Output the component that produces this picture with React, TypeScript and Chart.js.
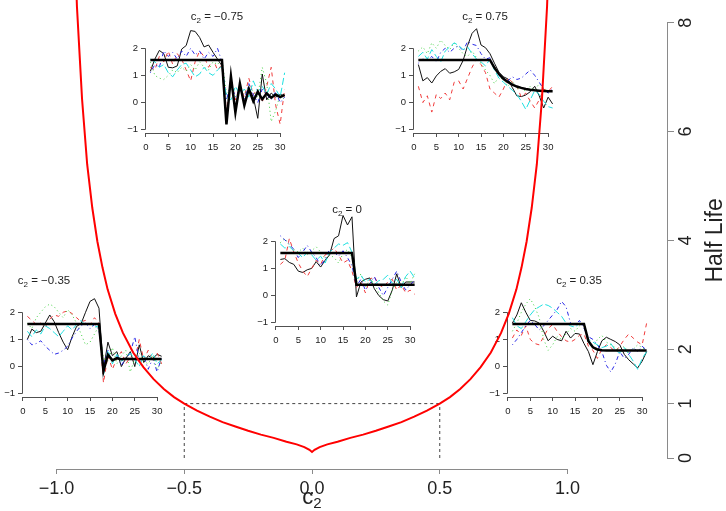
import React, { useEffect, useRef } from "react";
import { Chart, registerables } from "chart.js";

Chart.register(...registerables);

const FONT = '"Liberation Sans", Arial, Helvetica, sans-serif';

// ---------------- main chart data ----------------
const c2Grid = [
  -0.935, -0.92, -0.9, -0.88, -0.86, -0.84, -0.82, -0.8, -0.77, -0.74, -0.7, -0.66, -0.62, -0.58,
  -0.54, -0.5, -0.45, -0.4, -0.35, -0.3, -0.25, -0.2, -0.15, -0.1, -0.06, -0.03, -0.01, 0,
  0.01, 0.03, 0.06, 0.1, 0.15, 0.2, 0.25, 0.3, 0.35, 0.4, 0.45, 0.5, 0.54, 0.58, 0.62, 0.66,
  0.7, 0.74, 0.77, 0.8, 0.82, 0.84, 0.86, 0.88, 0.9, 0.92, 0.935,
];
const halfLife = [
  10.3, 8.3, 6.6, 5.4, 4.6, 3.98, 3.5, 3.1, 2.65, 2.3, 1.94, 1.67, 1.45, 1.27,
  1.12, 1.0, 0.87, 0.76, 0.66, 0.58, 0.5, 0.43, 0.37, 0.3, 0.25, 0.2, 0.15, 0.11,
  0.15, 0.2, 0.25, 0.3, 0.37, 0.43, 0.5, 0.58, 0.66, 0.76, 0.87, 1.0, 1.12, 1.27, 1.45, 1.67,
  1.94, 2.3, 2.65, 3.1, 3.5, 3.98, 4.6, 5.4, 6.6, 8.3, 10.3,
];
const refC2 = [-0.5, 0.5];
const refHalfLife = [0, 1];
const mainXTicks = [-1, -0.5, 0, 0.5, 1];
const mainYTicks = [0, 1, 2, 4, 6, 8];

// ---------------- inset data ----------------
const insetT = [1, 2, 3, 4, 5, 6, 7, 8, 9, 10, 11, 12, 13, 14, 15, 16, 17, 18, 19, 20, 21, 22, 23, 24, 25, 26, 27, 28, 29, 30, 31];
const insetXTicks = [0, 5, 10, 15, 20, 25, 30];
const insetYTicks = [-1, 0, 1, 2];
const insetC2 = [-0.75, 0.75, -0.35, 0, 0.35];

// c2 = -0.75
const meanA = [1.57, 1.57, 1.57, 1.57, 1.57, 1.57, 1.57, 1.57, 1.57, 1.57, 1.57, 1.57, 1.57, 1.57, 1.57, 1.57, 1.57, -0.8, 0.97, -0.36, 0.7, -0.1, 0.5, 0.05, 0.4, 0.12, 0.34, 0.18, 0.3, 0.2, 0.28];
const blackA = [1.15, 1.6, 1.92, 1.8, 1.3, 1.28, 1.35, 1.97, 2.1, 2.65, 2.62, 2.4, 2.05, 2.12, 1.85, 1.6, 1.35, -0.7, 0.9, -0.2, 0.65, 0.0, 0.55, 0.2, -0.58, 1.05, 0.1, 0.35, 0.2, 0.3, 0.25];
const redA = [1.3, 1.2, 1.7, 1.5, 1.9, 1.4, 1.8, 1.6, 1.2, 0.8, 1.5, 1.9, 1.7, 1.3, 1.6, 1.2, 1.4, -0.3, 0.9, 0.1, 0.6, 0.2, 0.9, 0.3, 0.5, 0.0, 0.6, 1.3, -0.1, -0.8, 0.5];
const greenA = [1.5, 1.0, 0.9, 0.85, 1.0, 1.2, 1.1, 1.3, 1.15, 1.4, 1.2, 1.5, 1.3, 1.2, 1.5, 1.4, 1.6, 0.3, 0.5, 0.2, 0.4, 0.3, 0.6, 0.4, 0.2, 1.3, 0.7, -0.7, -0.3, 0.3, 0.1];
const blueA = [1.1, 1.4, 1.3, 1.9, 1.7, 1.85, 1.6, 1.9, 1.7, 2.0, 1.75, 1.9, 1.6, 1.85, 1.7, 2.0, 1.5, 0.1, 0.7, 0.2, 0.5, 0.1, 0.7, 0.3, 0.0, 0.5, 0.3, 0.1, 0.4, 0.0, 0.2];
const cyanA = [1.6, 1.5, 1.3, 1.4, 1.1, 0.95, 1.2, 1.4, 1.45, 1.2, 0.95, 1.05, 1.3, 1.1, 1.0, 1.2, 1.35, 0.2, 0.1, 0.6, 0.3, 0.5, 0.2, 0.8, 0.4, 0.6, 0.3, 0.7, 0.5, 0.2, 1.1];

// c2 = 0.75
const meanB = [1.57, 1.57, 1.57, 1.57, 1.57, 1.57, 1.57, 1.57, 1.57, 1.57, 1.57, 1.57, 1.57, 1.57, 1.57, 1.57, 1.57, 1.28, 1.05, 0.88, 0.76, 0.66, 0.59, 0.54, 0.5, 0.47, 0.45, 0.44, 0.43, 0.42, 0.42];
const blackB = [1.4, 0.8, 0.92, 0.72, 0.98, 1.15, 1.25, 1.08, 1.13, 1.22, 1.55, 2.1, 2.55, 2.72, 2.12, 2.02, 1.8, 1.45, 1.12, 0.95, 0.87, 0.55, 0.25, 0.22, 0.28, 0.4, 0.6, 0.25, -0.2, 0.2, -0.05];
const redB = [0.6, 0.0, 0.25, -0.35, 0.3, 0.15, 0.35, 0.1, 0.75, 0.8, 0.5, 0.9, 1.3, 1.6, 1.4, 1.1, 0.5, 0.35, 0.2, 0.5, 0.9, 0.75, 0.6, 0.2, 0.35, 0.05, -0.2, 0.1, 0.5, 0.4, 0.6];
const greenB = [1.9, 2.05, 1.8, 2.2, 2.0, 2.3, 2.1, 1.95, 2.2, 2.0, 1.8, 1.7, 1.9, 1.65, 1.45, 1.2, 1.0, 0.7, 0.95, 0.85, 0.6, 0.8, 0.5, 0.55, 0.4, 0.6, 0.45, 0.7, 0.55, 0.4, 0.45];
const blueB = [1.45, 1.6, 1.55, 1.7, 1.5, 1.85, 2.0, 1.85, 2.0, 2.1, 1.9, 2.25, 2.15, 2.1, 1.8, 1.6, 1.65, 1.3, 1.0, 0.9, 0.8, 0.95, 0.85, 0.9, 1.05, 1.2, 1.0, 0.75, 0.5, 0.35, 0.5];
const cyanB = [1.7, 1.85, 1.6, 1.95, 1.7, 1.5, 1.9, 2.05, 2.2, 2.1, 1.95, 2.05, 1.8, 1.6, 1.5, 1.35, 1.6, 1.2, 0.9, 0.75, 0.6, 0.45, 0.3, 0.05, -0.25, 0.1, 0.45, 0.3, 0.05, -0.15, -0.2];

// c2 = -0.35
const meanC = [1.57, 1.57, 1.57, 1.57, 1.57, 1.57, 1.57, 1.57, 1.57, 1.57, 1.57, 1.57, 1.57, 1.57, 1.57, 1.57, 1.57, -0.17, 0.44, 0.23, 0.31, 0.27, 0.29, 0.28, 0.28, 0.28, 0.28, 0.28, 0.28, 0.28, 0.28];
const blackC = [1.0, 1.38, 1.25, 1.3, 1.6, 1.9, 1.65, 1.25, 0.9, 0.62, 1.1, 1.48, 1.58, 2.0, 2.4, 2.5, 2.15, -0.1, 0.9, 0.4, 0.55, 0.0, 0.3, 0.55, 0.0, 0.8, 0.15, 0.4, 0.3, 0.45, 0.38];
const redC = [1.85, 1.7, 1.55, 1.6, 1.45, 1.75, 1.9, 1.85, 2.0, 2.05, 1.95, 1.8, 1.65, 1.7, 1.55, 1.8, 1.6, -0.6, 0.4, -0.1, 0.3, 0.55, 0.1, 0.35, 0.2, 1.0, 0.25, 0.6, 0.2, 0.5, 0.1];
const greenC = [1.6, 1.4, 1.8, 2.0, 2.2, 2.3, 2.2, 2.0, 1.8, 2.1, 1.9, 1.6, 1.2, 0.8, 0.9, 1.2, 1.5, 0.3, 0.2, 0.7, 0.1, 0.4, 0.6, -0.2, 0.3, 0.5, 0.2, 0.1, 0.4, -0.1, 0.2];
const blueC = [1.0, 0.8, 0.85, 0.95, 0.75, 0.6, 0.45, 0.5, 0.6, 0.75, 1.05, 1.3, 1.5, 1.6, 1.4, 1.55, 1.35, 0.1, 0.6, 0.2, 0.4, 0.05, 0.3, 0.5, 1.1, 0.2, 0.4, -0.1, 0.3, -0.2, 0.35];
const cyanC = [1.3, 1.1, 1.35, 1.2, 1.5, 1.4, 1.25, 1.1, 1.3, 1.5, 1.35, 1.55, 1.7, 1.5, 1.6, 1.45, 1.5, -0.3, 0.6, 0.1, 0.45, 0.2, 0.3, 0.5, 0.25, 0.0, 0.4, 0.2, 0.5, 0.1, 0.25];

// c2 = 0
const meanD = [1.57, 1.57, 1.57, 1.57, 1.57, 1.57, 1.57, 1.57, 1.57, 1.57, 1.57, 1.57, 1.57, 1.57, 1.57, 1.57, 1.57, 0.4, 0.4, 0.4, 0.4, 0.4, 0.4, 0.4, 0.4, 0.4, 0.4, 0.4, 0.4, 0.4, 0.4];
const blackD = [1.33, 1.36, 1.22, 1.15, 0.9, 0.85, 0.95, 1.0, 1.25, 1.05, 1.3, 1.5, 2.1, 2.2, 2.95, 2.6, 2.9, -0.05, 0.5, 0.6, 0.65, 0.25, 0.0, -0.15, -0.2, 0.2, 0.8, 0.3, 0.5, 0.5, 0.5];
const redD = [1.15, 1.3, 2.1, 1.6, 1.2, 0.9, 0.7, 1.0, 1.3, 1.15, 1.5, 1.6, 1.75, 1.5, 1.2, 1.3, 0.9, 0.3, 0.5, 0.1, 0.6, 0.7, 0.4, 0.3, 0.5, 0.6, 0.2, 0.4, 0.1, 0.2, 0.05];
const greenD = [1.95, 2.1, 1.85, 1.7, 1.6, 1.75, 1.5, 1.65, 1.8, 1.6, 1.35, 1.5, 1.4, 1.2, 1.55, 1.7, 1.4, 0.5, 0.8, 0.3, 0.6, 0.45, 0.1, -0.2, -0.35, 0.2, 0.5, 0.35, 0.7, 0.45, 0.8];
const blueD = [2.2, 2.05, 1.9, 1.7, 1.4, 1.6, 1.85, 1.6, 1.4, 1.1, 1.35, 1.7, 1.6, 1.45, 1.65, 1.4, 1.1, 0.35, 0.6, 0.2, 0.45, 0.7, 0.3, 0.0, 0.3, 0.6, 0.9, 0.5, 0.2, 0.4, 0.55];
const cyanD = [1.9, 1.75, 1.8, 1.65, 1.55, 1.4, 1.6, 1.5, 1.3, 1.45, 1.2, 1.6, 1.75, 1.9, 1.85, 1.95, 1.6, 0.6, 0.75, 0.5, 0.6, 0.4, 0.55, 0.6, 0.75, 0.45, 0.6, 0.3, 0.7, 0.9, 0.65];

// c2 = 0.35
const meanE = [1.57, 1.57, 1.57, 1.57, 1.57, 1.57, 1.57, 1.57, 1.57, 1.57, 1.57, 1.57, 1.57, 1.57, 1.57, 1.57, 1.57, 0.93, 0.71, 0.63, 0.6, 0.59, 0.59, 0.59, 0.59, 0.59, 0.59, 0.59, 0.59, 0.59, 0.59];
const blackE = [1.6, 1.9, 2.35, 2.0, 1.7, 1.68, 1.6, 1.3, 0.95, 1.12, 1.0, 0.95, 1.3, 1.05, 1.22, 1.2, 0.85, 0.55, 0.07, 0.55, 0.95, 1.08, 1.0, 0.92, 0.8, 0.45, 0.25, 0.1, -0.05, 0.2, 0.55];
const redE = [1.05, 1.35, 1.15, 1.5, 1.0, 0.85, 0.8, 1.1, 1.4, 1.55, 1.3, 1.1, 0.95, 0.9, 1.0, 1.15, 1.2, 0.75, 0.6, 0.3, 0.65, 0.8, 0.7, 0.55, 0.75, 1.0, 1.2, 1.05, 0.9, 0.8, 1.6];
const greenE = [1.3, 1.6, 2.0, 2.3, 2.5, 2.2, 1.8, 1.0, 0.6, 0.8, 1.1, 1.0, 1.2, 1.4, 1.3, 1.5, 1.6, 0.9, 0.7, 1.0, 1.15, 0.9, 0.8, 0.7, 0.6, 0.75, 0.5, 0.65, 0.8, 0.7, 0.6];
const blueE = [0.8, 1.0, 1.25, 1.5, 1.7, 1.55, 1.35, 1.5, 1.7, 1.9, 2.1, 2.4, 2.2, 1.6, 1.5, 1.7, 1.4, 1.1, 1.0, 0.8, 0.55, 0.05, -0.2, 0.1, 0.55, 0.3, 0.45, 0.7, 0.55, 0.75, 0.6];
const cyanE = [1.8, 1.5, 1.4, 1.65, 1.9, 2.1, 2.2, 2.3, 2.25, 2.15, 2.0, 1.85, 1.6, 1.5, 1.45, 1.6, 1.55, 1.0, 0.9, 0.8, 0.7, 0.75, 0.85, 0.6, 0.5, 0.7, 0.45, 0.2, -0.1, 0.3, 0.55];

// ---------------- styling / geometry ----------------
const MAIN_AXIS = "#8a8a8a";
const INSET_AXIS = "#505050";
const TEXT = "#222";
const RED = "#f03c3c";
const GREEN = "#3fcf3f";
const BLUE = "#2828e6";
const CYAN = "#1ee0e0";

const MAIN = { zeroX: 312, unitX: 255.5, zeroY: 458, unitY: 54.4, plotRight: 667, plotBottom: 469 };
const MAIN_TICK_FONT = 18;

const IN_X_MIN = -0.2, IN_X_MAX = 32.2, IN_Y_MIN = -1.12, IN_Y_MAX = 2.12;
const IN_AXW = 22, IN_PAD_T = 40, IN_PAD_R = 8, IN_AXH = 26;
const IN_AREA_W = 145, IN_AREA_H = 88;
const INSET_W = IN_AXW + IN_AREA_W + IN_PAD_R;
const INSET_H = IN_PAD_T + IN_AREA_H + IN_AXH;
const XU = IN_AREA_W / (IN_X_MAX - IN_X_MIN);
const YU = IN_AREA_H / (IN_Y_MAX - IN_Y_MIN);

const insetGeom = [
  { x0: 146, y0: 103, titleX: 217 },
  { x0: 413.5, y0: 103, titleX: 485 },
  { x0: 23, y0: 367, titleX: 44 },
  { x0: 276, y0: 296, titleX: 347 },
  { x0: 507.5, y0: 367, titleX: 579 },
];
const insetSeries = [
  { mean: meanA, s: [blackA, redA, greenA, blueA, cyanA] },
  { mean: meanB, s: [blackB, redB, greenB, blueB, cyanB] },
  { mean: meanC, s: [blackC, redC, greenC, blueC, cyanC] },
  { mean: meanD, s: [blackD, redD, greenD, blueD, cyanD] },
  { mean: meanE, s: [blackE, redE, greenE, blueE, cyanE] },
];

function fmtMinus(v: number, digits: number) {
  const s = Math.abs(v).toFixed(digits);
  return v < 0 ? "\u2212" + s : s;
}

function drawC2(ctx: CanvasRenderingContext2D, cx: number, baseline: number, size: number, subSize: number, drop: number, rest: string) {
  const big = `${size}px ${FONT}`;
  const small = `${subSize}px ${FONT}`;
  ctx.font = big;
  const wc = ctx.measureText("c").width;
  const wr = rest ? ctx.measureText(rest).width : 0;
  ctx.font = small;
  const w2 = ctx.measureText("2").width;
  let x = cx - (wc + w2 + wr) / 2;
  ctx.textAlign = "left";
  ctx.textBaseline = "alphabetic";
  ctx.font = big;
  ctx.fillText("c", x, baseline);
  x += wc;
  ctx.font = small;
  ctx.fillText("2", x, baseline + drop);
  x += w2;
  if (rest) {
    ctx.font = big;
    ctx.fillText(rest, x, baseline);
  }
}

function buildMain(canvas: HTMLCanvasElement) {
  const xMin = -MAIN.zeroX / MAIN.unitX;
  const xMax = (MAIN.plotRight - MAIN.zeroX) / MAIN.unitX;
  const yMin = -(MAIN.plotBottom - MAIN.zeroY) / MAIN.unitY;
  const yMax = MAIN.zeroY / MAIN.unitY;
  const decor = {
    id: "mainDecor",
    afterDraw(chart: any) {
      const { ctx, chartArea: a, scales } = chart;
      const xs = scales.x, ys = scales.y;
      ctx.save();
      ctx.strokeStyle = MAIN_AXIS;
      ctx.lineWidth = 1;
      const by = Math.round(a.bottom) + 0.5;
      ctx.beginPath();
      ctx.moveTo(xs.getPixelForValue(mainXTicks[0]), by);
      ctx.lineTo(xs.getPixelForValue(mainXTicks[mainXTicks.length - 1]), by);
      ctx.stroke();
      const rx = Math.round(a.right) + 0.5;
      ctx.beginPath();
      ctx.moveTo(rx, ys.getPixelForValue(mainYTicks[0]));
      ctx.lineTo(rx, ys.getPixelForValue(mainYTicks[mainYTicks.length - 1]));
      ctx.stroke();
      ctx.fillStyle = TEXT;
      ctx.font = `${MAIN_TICK_FONT}px ${FONT}`;
      ctx.textAlign = "center";
      ctx.textBaseline = "middle";
      mainYTicks.forEach((v) => {
        ctx.save();
        ctx.translate(a.right + 19, ys.getPixelForValue(v));
        ctx.rotate(-Math.PI / 2);
        ctx.fillText(String(v), 0, 0);
        ctx.restore();
      });
      ctx.font = `23px ${FONT}`;
      ctx.save();
      ctx.translate(a.right + 49, ys.getPixelForValue(4));
      ctx.rotate(-Math.PI / 2);
      ctx.fillText("Half Life", 0, 0);
      ctx.restore();
      drawC2(ctx, xs.getPixelForValue(0), 504, 22, 15, 4, "");
      ctx.restore();
    },
  };
  const dash = { borderColor: "#444", borderWidth: 1, borderDash: [3, 3], pointRadius: 0 };
  return new Chart(canvas, {
    type: "line",
    data: {
      datasets: [
        { data: c2Grid.map((c, i) => ({ x: c, y: halfLife[i] })), borderColor: "#ff0000", borderWidth: 2, pointRadius: 0, tension: 0 },
        { data: [{ x: refC2[0], y: refHalfLife[1] }, { x: refC2[1], y: refHalfLife[1] }], ...dash },
        { data: [{ x: refC2[0], y: refHalfLife[0] }, { x: refC2[0], y: refHalfLife[1] }], ...dash },
        { data: [{ x: refC2[1], y: refHalfLife[0] }, { x: refC2[1], y: refHalfLife[1] }], ...dash },
      ],
    } as any,
    options: {
      animation: false,
      responsive: false,
      events: [],
      layout: { padding: 0 },
      plugins: { legend: { display: false }, tooltip: { enabled: false } },
      scales: {
        x: {
          type: "linear",
          min: xMin,
          max: xMax,
          afterBuildTicks: (s: any) => { s.ticks = mainXTicks.map((v) => ({ value: v })); },
          afterFit: (s: any) => { s.height = 511 - MAIN.plotBottom; },
          ticks: { autoSkip: false, maxRotation: 0, minRotation: 0, padding: 4, color: TEXT, font: { family: FONT, size: MAIN_TICK_FONT }, callback: (v: any) => fmtMinus(Number(v), 1) },
          grid: { drawOnChartArea: false, drawTicks: true, tickLength: 5, color: MAIN_AXIS },
          border: { display: false },
        },
        y: {
          type: "linear",
          position: "right",
          min: yMin,
          max: yMax,
          afterBuildTicks: (s: any) => { s.ticks = mainYTicks.map((v) => ({ value: v })); },
          afterFit: (s: any) => { s.width = 726 - MAIN.plotRight; },
          ticks: { display: false },
          grid: { drawOnChartArea: false, drawTicks: true, tickLength: 7, color: MAIN_AXIS },
          border: { display: false },
        },
      },
    } as any,
    plugins: [decor],
  });
}

function buildInset(canvas: HTMLCanvasElement, idx: number, left: number) {
  const g = insetGeom[idx];
  const ser = insetSeries[idx];
  const pts = (arr: number[]) => arr.map((v, i) => ({ x: insetT[i], y: v }));
  const ds = (arr: number[], color: string, width: number, dashArr: number[]) => ({
    data: pts(arr), borderColor: color, borderWidth: width, borderDash: dashArr, pointRadius: 0, clip: false, tension: 0,
  });
  const decor = {
    id: "insetDecor",
    afterDraw(chart: any) {
      const { ctx, chartArea: a, scales } = chart;
      const xs = scales.x, ys = scales.y;
      ctx.save();
      ctx.strokeStyle = INSET_AXIS;
      ctx.lineWidth = 1;
      const lx = Math.round(a.left) + 0.5;
      ctx.beginPath();
      ctx.moveTo(lx, ys.getPixelForValue(insetYTicks[0]));
      ctx.lineTo(lx, ys.getPixelForValue(insetYTicks[insetYTicks.length - 1]));
      ctx.stroke();
      const by = Math.round(a.bottom) + 0.5;
      ctx.beginPath();
      ctx.moveTo(xs.getPixelForValue(insetXTicks[0]), by);
      ctx.lineTo(xs.getPixelForValue(insetXTicks[insetXTicks.length - 1]), by);
      ctx.stroke();
      ctx.fillStyle = TEXT;
      const c2 = insetC2[idx];
      drawC2(ctx, g.titleX - left, a.top - 25, 11.5, 8, 3, " = " + fmtMinus(c2, c2 === 0 ? 0 : 2));
      ctx.restore();
    },
  };
  return new Chart(canvas, {
    type: "line",
    data: {
      datasets: [
        ds(ser.mean, "#000", 2.5, []),
        ds(ser.s[4], CYAN, 1, [7, 3]),
        ds(ser.s[3], BLUE, 1, [1, 3, 4, 3]),
        ds(ser.s[2], GREEN, 1, [1, 3]),
        ds(ser.s[1], RED, 1, [4, 4]),
        ds(ser.s[0], "#111", 1, []),
      ],
    } as any,
    options: {
      animation: false,
      responsive: false,
      events: [],
      layout: { padding: { top: IN_PAD_T, right: IN_PAD_R, left: 0, bottom: 0 } },
      plugins: { legend: { display: false }, tooltip: { enabled: false } },
      scales: {
        x: {
          type: "linear",
          min: IN_X_MIN,
          max: IN_X_MAX,
          afterBuildTicks: (s: any) => { s.ticks = insetXTicks.map((v) => ({ value: v })); },
          afterFit: (s: any) => { s.height = IN_AXH; },
          ticks: { autoSkip: false, maxRotation: 0, minRotation: 0, padding: 5, color: TEXT, font: { family: FONT, size: 9.5 }, callback: (v: any) => String(v) },
          grid: { drawOnChartArea: false, drawTicks: true, tickLength: 4, color: INSET_AXIS },
          border: { display: false },
        },
        y: {
          type: "linear",
          min: IN_Y_MIN,
          max: IN_Y_MAX,
          afterBuildTicks: (s: any) => { s.ticks = insetYTicks.map((v) => ({ value: v })); },
          afterFit: (s: any) => { s.width = IN_AXW; },
          ticks: { autoSkip: false, padding: 3, color: TEXT, font: { family: FONT, size: 9.5 }, callback: (v: any) => fmtMinus(Number(v), 0) },
          grid: { drawOnChartArea: false, drawTicks: true, tickLength: 4, color: INSET_AXIS },
          border: { display: false },
        },
      },
    } as any,
    plugins: [decor],
  });
}

const insetBoxes = insetGeom.map((g) => ({
  left: Math.round(g.x0 + IN_X_MIN * XU - IN_AXW),
  top: Math.round(g.y0 - IN_Y_MAX * YU - IN_PAD_T),
}));

export default function App() {
  const mainRef = useRef<HTMLCanvasElement>(null);
  const insetRefs = useRef<(HTMLCanvasElement | null)[]>([]);
  useEffect(() => {
    const charts: Chart[] = [];
    insetBoxes.forEach((b, i) => {
      const cv = insetRefs.current[i];
      if (cv) charts.push(buildInset(cv, i, b.left));
    });
    if (mainRef.current) charts.push(buildMain(mainRef.current));
    return () => charts.forEach((c) => c.destroy());
  }, []);
  return (
    <div style={{ position: "absolute", left: 0, top: 0, width: 726, height: 511, background: "#fff", overflow: "hidden" }}>
      {insetBoxes.map((b, i) => (
        <canvas
          key={i}
          ref={(el) => { insetRefs.current[i] = el; }}
          width={INSET_W}
          height={INSET_H}
          style={{ position: "absolute", left: b.left, top: b.top, width: INSET_W, height: INSET_H }}
        />
      ))}
      <canvas ref={mainRef} width={726} height={511} style={{ position: "absolute", left: 0, top: 0, width: 726, height: 511 }} />
    </div>
  );
}
